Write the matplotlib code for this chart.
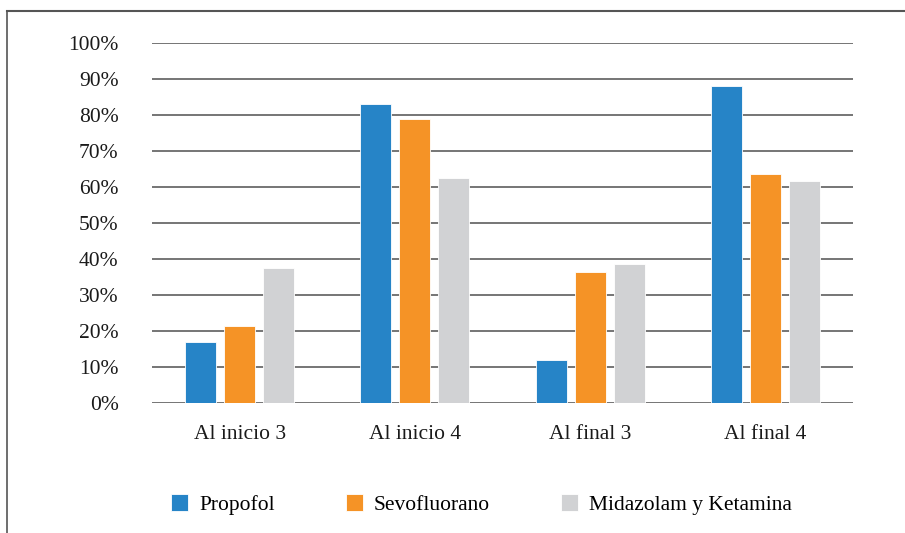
import numpy as np
import matplotlib
matplotlib.use('Agg')
import matplotlib.pyplot as plt
from matplotlib.lines import Line2D

# datos (porcentaje)
categorias = ['Al inicio 3', 'Al inicio 4', 'Al final 3', 'Al final 4']
propofol = [17, 83, 12, 88]
sevofluorano = [21.5, 78.8, 36.4, 63.6]
midazolam_ketamina = [37.6, 62.5, 38.6, 61.7]

series = ['Propofol', 'Sevofluorano', 'Midazolam y Ketamina']
colores = ['#2684C7', '#F59326', '#D1D2D4']
valores = [propofol, sevofluorano, midazolam_ketamina]
ticks_y = [0, 10, 20, 30, 40, 50, 60, 70, 80, 90, 100]

plt.rcParams['font.family'] = ['Liberation Serif', 'DejaVu Serif']

fig = plt.figure(figsize=(9.05, 5.33), dpi=100)
ax = fig.add_axes([0.168, 0.2439, 0.7745, 0.6754])

x = np.arange(len(categorias))
ancho = 0.177
paso = 0.223
for i in range(3):
    ax.bar(x + (i - 1) * paso, valores[i], width=ancho, color=colores[i],
           label=series[i], zorder=3, edgecolor='white', linewidth=0.6)

ax.set_ylim(0, 100)
ax.set_xlim(-0.5, len(categorias) - 0.5)
ax.set_yticks(ticks_y)
ax.set_yticklabels([str(t) + '%' for t in ticks_y], fontsize=15.5, color='#1a1a1a')
ax.set_xticks(x)
ax.set_xticklabels(categorias, fontsize=15.5, color='#1a1a1a')
ax.tick_params(axis='y', length=0, pad=24)
ax.tick_params(axis='x', length=0, pad=16)
ax.grid(axis='y', color='#6a6a6a', linewidth=1.3, zorder=0)
for s in ax.spines.values():
    s.set_visible(False)

# marco exterior (solo arriba e izquierda visibles)
fig.add_artist(Line2D([7 / 905, 1], [1 - 11 / 533, 1 - 11 / 533],
                      transform=fig.transFigure, color='#555555', linewidth=1.5))
fig.add_artist(Line2D([7 / 905, 7 / 905], [0, 1 - 11 / 533],
                      transform=fig.transFigure, color='#555555', linewidth=1.2))

fig.legend(loc='center', bbox_to_anchor=(0.532, 0.053), ncol=3, frameon=False,
           fontsize=15.5, handlelength=0.8, handleheight=0.8, handletextpad=0.5,
           columnspacing=3.3)

fig.savefig('out.png', dpi=100)
